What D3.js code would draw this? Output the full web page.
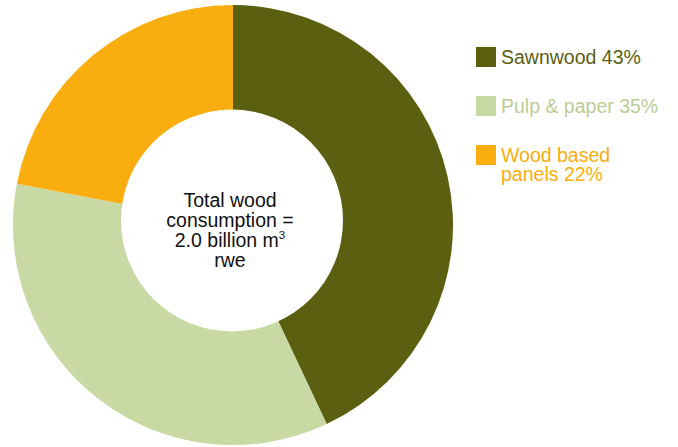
<!DOCTYPE html>
<html>
<head>
<meta charset="utf-8">
<script src="https://cdn.jsdelivr.net/npm/d3@7"></script>
<style>
  html, body { margin: 0; padding: 0; background: #fff; }
  svg { display: block; font-family: "Liberation Sans", Arial, sans-serif; }
</style>
</head>
<body>
<svg id="chart" width="678" height="447"></svg>
<script>
// Shares of global wood consumption by end use
const categories = ["Sawnwood", "Pulp & paper", "Wood based panels"];
const shares = [43, 35, 22];
const legendLines = [["Sawnwood 43%"], ["Pulp & paper 35%"], ["Wood based", "panels 22%"]];
const colors = ["#5a600f", "#c9d9a3", "#f9ad0e"];
const textColors = ["#5a600f", "#bccd96", "#f9ad0e"];
const centerLines = ["Total wood", "consumption =", "2.0 billion m³", "rwe"];

const svg = d3.select("#chart");

const cx = 233, cy = 225, outerR = 220;
const holeCx = 232, holeCy = 220.5, holeR = 111;

const pie = d3.pie().sort(null).value(d => d)(shares);
const arc = d3.arc().innerRadius(0).outerRadius(outerR);

const g = svg.append("g").attr("transform", `translate(${cx},${cy})`);
g.selectAll("path")
  .data(pie)
  .join("path")
  .attr("d", arc)
  .attr("fill", (d, i) => colors[i]);

// White centre disc
svg.append("circle")
  .attr("cx", holeCx).attr("cy", holeCy).attr("r", holeR)
  .attr("fill", "#fff");

// Centre label
const ct = svg.append("text")
  .attr("text-anchor", "middle")
  .attr("font-size", 19.5)
  .attr("fill", "#111");
centerLines.forEach((line, i) => {
  const t = ct.append("tspan").attr("x", 230).attr("y", 206.7 + i * 20);
  if (line.endsWith("³")) {
    t.text(line.slice(0, -1));
    t.append("tspan").attr("font-size", 11.5).attr("dy", -7.5).text("3");
  } else {
    t.text(line);
  }
});

// Legend
const legendY = d3.scaleBand().domain(categories).range([47, 47 + 49 * 3]).paddingInner(0);
const lg = svg.append("g");
categories.forEach((c, i) => {
  const y = legendY(c);
  lg.append("rect")
    .attr("x", 476).attr("y", y).attr("width", 20).attr("height", 20)
    .attr("fill", colors[i]);
  const tx = lg.append("text")
    .attr("font-size", 19.5)
    .attr("fill", textColors[i]);
  legendLines[i].forEach((line, j) => {
    tx.append("tspan").attr("x", 501).attr("y", y + 16.5 + j * 19.5).text(line);
  });
});
</script>
</body>
</html>
